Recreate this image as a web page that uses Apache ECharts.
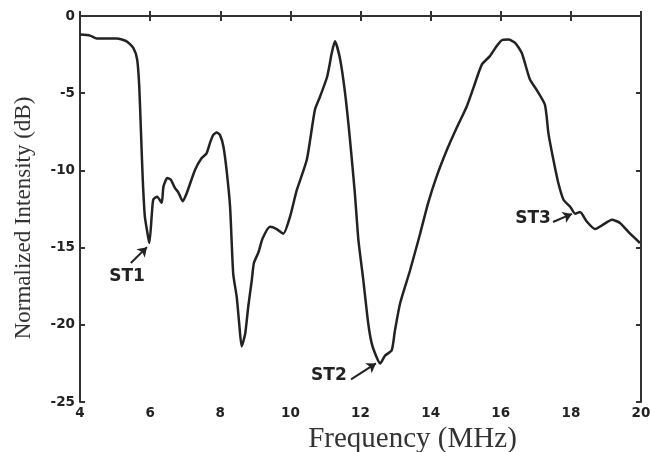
<!DOCTYPE html>
<html><head><meta charset="utf-8">
<script src="https://cdn.jsdelivr.net/npm/echarts@6/dist/echarts.min.js"></script>
<style>html,body{margin:0;padding:0;background:#fff}#c{width:650px;height:452px}</style>
</head><body><div id="c"></div>
<script>
// Frequency (MHz)
const freq = [4.00,4.29,4.48,5.05,5.33,5.52,5.63,5.69,5.74,5.79,5.85,5.95,5.98,6.05,6.09,6.20,6.33,6.38,6.49,6.59,6.71,6.80,6.93,7.04,7.28,7.47,7.61,7.71,7.80,7.90,7.99,8.09,8.18,8.28,8.37,8.47,8.54,8.61,8.71,8.80,8.90,8.96,9.09,9.21,9.42,9.61,9.80,9.99,10.18,10.47,10.70,10.85,11.04,11.11,11.18,11.27,11.42,11.56,11.70,11.84,11.94,12.08,12.22,12.32,12.46,12.56,12.70,12.89,12.98,13.13,13.41,13.70,13.93,14.17,14.46,14.74,15.03,15.22,15.46,15.69,15.88,16.03,16.22,16.41,16.60,16.83,17.02,17.26,17.36,17.50,17.64,17.79,17.98,18.12,18.26,18.45,18.69,18.93,19.17,19.40,19.69,19.97];
// Normalized intensity (dB)
const intensity = [-1.20,-1.27,-1.46,-1.46,-1.64,-2.07,-2.82,-4.56,-7.58,-10.6,-13.0,-14.4,-14.7,-12.8,-11.9,-11.7,-12.1,-11.05,-10.5,-10.6,-11.15,-11.4,-12.0,-11.5,-9.97,-9.2,-8.9,-8.2,-7.7,-7.55,-7.7,-8.45,-9.97,-12.35,-16.7,-18.2,-19.9,-21.4,-20.6,-18.8,-17.1,-16.0,-15.3,-14.4,-13.65,-13.8,-14.1,-13.0,-11.3,-9.3,-6.07,-5.2,-4.0,-3.26,-2.4,-1.64,-2.82,-5.0,-8.0,-11.5,-14.5,-17.1,-19.9,-21.2,-22.1,-22.5,-22.0,-21.65,-20.4,-18.6,-16.5,-14.1,-12.1,-10.4,-8.7,-7.26,-5.86,-4.66,-3.15,-2.6,-1.96,-1.57,-1.53,-1.74,-2.4,-4.1,-4.77,-5.75,-7.6,-9.3,-10.8,-11.9,-12.35,-12.8,-12.7,-13.3,-13.8,-13.5,-13.2,-13.4,-14.1,-14.7];
// Annotations: label, label position, arrow start, arrow end (data units)
const annoLabels = ['ST1','ST2','ST3'];
const annoText = [[5.34,-16.85],[11.10,-23.28],[16.92,-13.15]];
const annoFrom = [[5.45,-16.0],[11.73,-23.54],[17.49,-13.34]];
const annoTo = [[5.91,-14.97],[12.44,-22.5],[18.03,-12.82]];
const xTicks = [4,20,2];
const yTicks = [-25,0,5];

const chart = echarts.init(document.getElementById('c'));
const axisLine = {show:true, lineStyle:{color:'#333', width:2}};
const tickIn = {show:true, inside:true, length:5, lineStyle:{color:'#333', width:2}};
const lblStyle = {color:'#222', fontFamily:'DejaVu Sans', fontWeight:'bold', fontSize:13.5};
chart.setOption({
  animation:false,
  grid:{left:80, right:9, top:16, bottom:50, containLabel:false, outerBoundsMode:'none'},
  xAxis:[
    {type:'value', min:xTicks[0], max:xTicks[1], interval:xTicks[2], position:'bottom',
     axisLine, axisTick:tickIn, splitLine:{show:false},
     axisLabel:Object.assign({margin:4}, lblStyle),
     name:'Frequency (MHz)', nameLocation:'middle', nameGap:21,
     nameTextStyle:{fontFamily:'Liberation Serif, Times New Roman', fontSize:29, color:'#333', padding:[0,0,0,104]}},
    {type:'value', min:xTicks[0], max:xTicks[1], interval:xTicks[2], position:'top',
     axisLine, axisTick:tickIn, axisLabel:{show:false}, splitLine:{show:false}}
  ],
  yAxis:[
    {type:'value', min:yTicks[0], max:yTicks[1], interval:yTicks[2], position:'left',
     axisLine, axisTick:tickIn, splitLine:{show:false},
     axisLabel:Object.assign({margin:5}, lblStyle),
     name:'Normalized Intensity (dB)', nameLocation:'middle', nameGap:45,
     nameTextStyle:{fontFamily:'Liberation Serif, Times New Roman', fontSize:23, color:'#333', padding:[0,18,0,0]}},
    {type:'value', min:yTicks[0], max:yTicks[1], interval:yTicks[2], position:'right',
     axisLine, axisTick:tickIn, axisLabel:{show:false}, splitLine:{show:false}}
  ],
  series:[{
    type:'line', data:freq.map((f,i)=>[f,intensity[i]]), showSymbol:false,
    lineStyle:{color:'#222', width:2.5}, smooth:0.2,
    markPoint:{
      symbol:'circle', symbolSize:0,
      label:{show:true, position:'inside', color:'#222', fontFamily:'DejaVu Sans, Verdana', fontWeight:'bold', fontSize:17, formatter:p=>p.name},
      data:annoLabels.map((n,i)=>({name:n, coord:annoText[i]}))
    },
    markLine:{
      silent:true, symbol:['none','arrow'], symbolSize:9,
      lineStyle:{color:'#222', width:2, type:'solid'}, label:{show:false},
      data:annoLabels.map((n,i)=>[{coord:annoFrom[i]},{coord:annoTo[i]}])
    }
  }]
});
</script></body></html>
